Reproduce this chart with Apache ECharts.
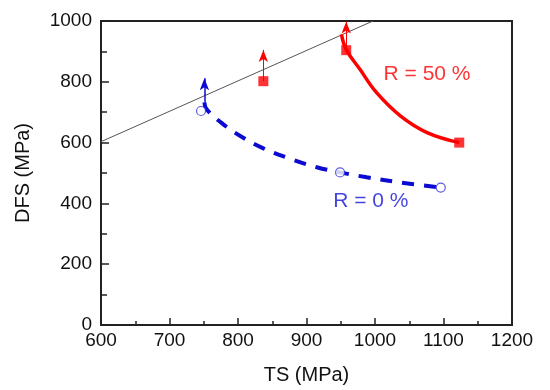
<!DOCTYPE html>
<html>
<head>
<meta charset="utf-8">
<script src="https://cdn.jsdelivr.net/npm/echarts@6/dist/echarts.min.js"></script>
<style>html,body{margin:0;padding:0;background:#fff}#c{width:550px;height:390px}</style>
</head>
<body>
<div id="c"></div>
<script>
// Data
const xTicks = [600, 700, 800, 900, 1000, 1100, 1200];
const yTicks = [0, 200, 400, 600, 800, 1000];
const r0Points = [[746, 704], [949, 502], [1096, 452]];
const r50Points = [[837, 802], [958, 904], [1123, 600]];
const r0Curve = [[751, 732], [754, 710], [778, 661], [807, 617], [837, 581], [871, 551], [915, 519], [949, 502], [988, 486], [1037, 469], [1096, 452]];
const r50Curve = [[951, 956], [958, 906], [978, 841], [1002, 765], [1037, 688], [1076, 633], [1123, 600]];
const refLine = [[600, 603], [997, 1000]];
const r0Arrows = [[751, 732, 812]];
const r50Arrows = [[837, 802, 905], [958, 904, 998]];
const labels = [{text: 'R = 50 %', pos: [1076, 825], color: '#ff0000'}, {text: 'R = 0 %', pos: [994, 408], color: '#1414d8'}];

const FONT = 'Liberation Sans, Arial, sans-serif';
const BLUE = '#0a0ad2';
const RED = '#ff0000';

function arrowData(arr) {
  return arr.map(a => [{coord: [a[0], a[1]]}, {coord: [a[0], a[2]]}]);
}

const chart = echarts.init(document.getElementById('c'), null, {renderer: 'canvas'});
chart.setOption({
  animation: false,
  backgroundColor: '#fff',
  grid: {left: 101, right: 38, top: 21, bottom: 64, show: true, borderColor: '#222', borderWidth: 2, backgroundColor: 'transparent'},
  xAxis: {
    type: 'value', min: xTicks[0], max: xTicks[xTicks.length - 1], interval: 100,
    name: 'TS (MPa)', nameLocation: 'middle', nameGap: 40,
    nameTextStyle: {fontFamily: FONT, fontSize: 20, color: '#111'},
    axisLine: {show: true, lineStyle: {color: '#222', width: 2}},
    axisTick: {show: true, inside: true, length: 7, lineStyle: {color: '#222', width: 1.5}},
    minorTick: {show: true, splitNumber: 2, length: 4, lineStyle: {color: '#222', width: 1.5}},
    axisLabel: {fontFamily: FONT, fontSize: 19, color: '#111', margin: 6, formatter: v => String(v)},
    splitLine: {show: false}
  },
  yAxis: {
    type: 'value', min: yTicks[0], max: yTicks[yTicks.length - 1], interval: 200,
    name: 'DFS (MPa)', nameLocation: 'middle', nameGap: 68,
    nameTextStyle: {fontFamily: FONT, fontSize: 20, color: '#111'},
    axisLine: {show: true, lineStyle: {color: '#222', width: 2}},
    axisTick: {show: true, inside: true, length: 8, lineStyle: {color: '#222', width: 1.5}},
    minorTick: {show: true, splitNumber: 2, length: 6, lineStyle: {color: '#222', width: 1.5}},
    axisLabel: {fontFamily: FONT, fontSize: 19, color: '#111', margin: 9, formatter: v => String(v)},
    splitLine: {show: false}
  },
  series: [
    {type: 'line', data: refLine, symbol: 'none', lineStyle: {color: '#555', width: 1}, silent: true},
    {type: 'line', data: r0Curve, smooth: 0.4, symbol: 'none', lineStyle: {color: BLUE, width: 4, type: [12, 10], cap: 'butt'},
     markLine: {silent: true, symbol: ['none', 'arrow'], symbolSize: [7, 12], label: {show: false},
       lineStyle: {color: BLUE, width: 1.5, type: 'solid'}, data: arrowData(r0Arrows)}},
    {type: 'line', data: r50Curve, smooth: 0.4, symbol: 'none', lineStyle: {color: RED, width: 3.5},
     markLine: {silent: true, symbol: ['none', 'arrow'], symbolSize: [7, 12], label: {show: false},
       lineStyle: {color: RED, width: 1, type: 'solid'}, data: arrowData(r50Arrows)}},
    {type: 'scatter', data: r0Points, symbol: 'circle', symbolSize: 9,
     itemStyle: {color: '#fff', borderColor: '#3333dd', borderWidth: 1.2}, z: 5},
    {type: 'scatter', data: r50Points, symbol: 'rect', symbolSize: 10, itemStyle: {color: RED}, z: 5},
    {type: 'scatter', symbolSize: 0, silent: true, z: 6,
     data: labels.map(l => ({value: l.pos, label: {show: true, position: 'inside', formatter: l.text,
       fontFamily: FONT, fontSize: 21, color: l.color}}))}
  ]
});
</script>
</body>
</html>
